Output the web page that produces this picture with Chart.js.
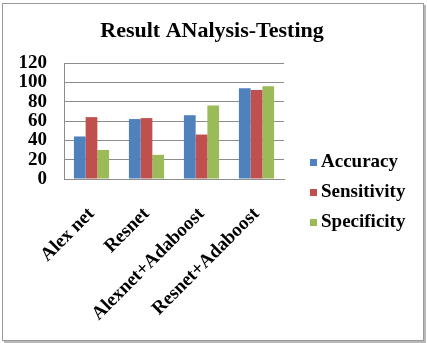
<!DOCTYPE html>
<html><head><meta charset="utf-8">
<script src="https://cdn.jsdelivr.net/npm/chart.js@4"></script>
<style>
html,body{margin:0;padding:0;background:#fff;}
#wrap{position:absolute;left:0;top:0;width:427px;height:343px;}
#frame{position:absolute;left:2px;top:3px;width:420px;height:336px;border:1px solid #9a9a9a;box-shadow:2px 2px 0 #b8b8b8;background:#fff;}
canvas{position:absolute;left:0;top:0;}
</style></head>
<body>
<div id="wrap"><div id="frame"></div><canvas id="c" width="427" height="343"></canvas></div>
<script>
const title = 'Result ANalysis-Testing';
const categories = ['Alex net', 'Resnet', 'Alexnet+Adaboost', 'Resnet+Adaboost'];
const seriesNames = ['Accuracy', 'Sensitivity', 'Specificity'];
const accuracy = [44, 62, 66, 94];
const sensitivity = [64, 63, 46, 92];
const specificity = [30, 25, 76, 96];
const yTicks = [0, 20, 40, 60, 80, 100, 120];
const colors = ['#4F81BD', '#C0504D', '#9BBB59'];
const serif = '"Liberation Serif","Times New Roman",serif';

const textPlugin = {
  id: 'customText',
  afterDraw(chart) {
    const ctx = chart.ctx;
    ctx.save();
    ctx.fillStyle = '#000';
    ctx.font = 'bold 22px ' + serif;
    ctx.textAlign = 'center';
    ctx.textBaseline = 'middle';
    ctx.fillText(title, 212, 31);
    ctx.font = 'bold 19px ' + serif;
    ctx.textAlign = 'left';
    chart.data.datasets.forEach((ds, i) => {
      const y = 162 + i * 30;
      ctx.fillStyle = ds.backgroundColor;
      ctx.fillRect(310, y - 3, 7, 7);
      ctx.fillStyle = '#000';
      ctx.fillText(ds.label, 321, y);
    });
    ctx.restore();
  }
};

new Chart(document.getElementById('c'), {
  type: 'bar',
  data: {
    labels: categories,
    datasets: [
      {label: seriesNames[0], data: accuracy, backgroundColor: colors[0]},
      {label: seriesNames[1], data: sensitivity, backgroundColor: colors[1]},
      {label: seriesNames[2], data: specificity, backgroundColor: colors[2]}
    ]
  },
  options: {
    responsive: false,
    animation: false,
    devicePixelRatio: 1,
    layout: {padding: {top: 63, right: 143, left: 0, bottom: 0}},
    datasets: {bar: {categoryPercentage: 0.64, barPercentage: 1}},
    plugins: {
      legend: {display: false},
      tooltip: {enabled: false},
      title: {display: false}
    },
    scales: {
      x: {
        grid: {display: false},
        border: {display: true, color: '#8c8c8c'},
        ticks: {color: '#000', font: {family: serif, size: 19, weight: 'bold'}, minRotation: 45, maxRotation: 45, padding: 16, autoSkip: false},
        afterFit(s) { s.height = 164; }
      },
      y: {
        min: 0, max: 120,
        afterBuildTicks(s) { s.ticks = yTicks.map(v => ({value: v})); },
        grid: {color: '#8c8c8c', drawTicks: false},
        border: {display: true, color: '#8c8c8c'},
        ticks: {color: '#000', font: {family: serif, size: 19, weight: 'bold'}, padding: 17, autoSkip: false},
        afterFit(s) { s.width = 64; }
      }
    }
  },
  plugins: [textPlugin]
});
</script>
</body></html>
